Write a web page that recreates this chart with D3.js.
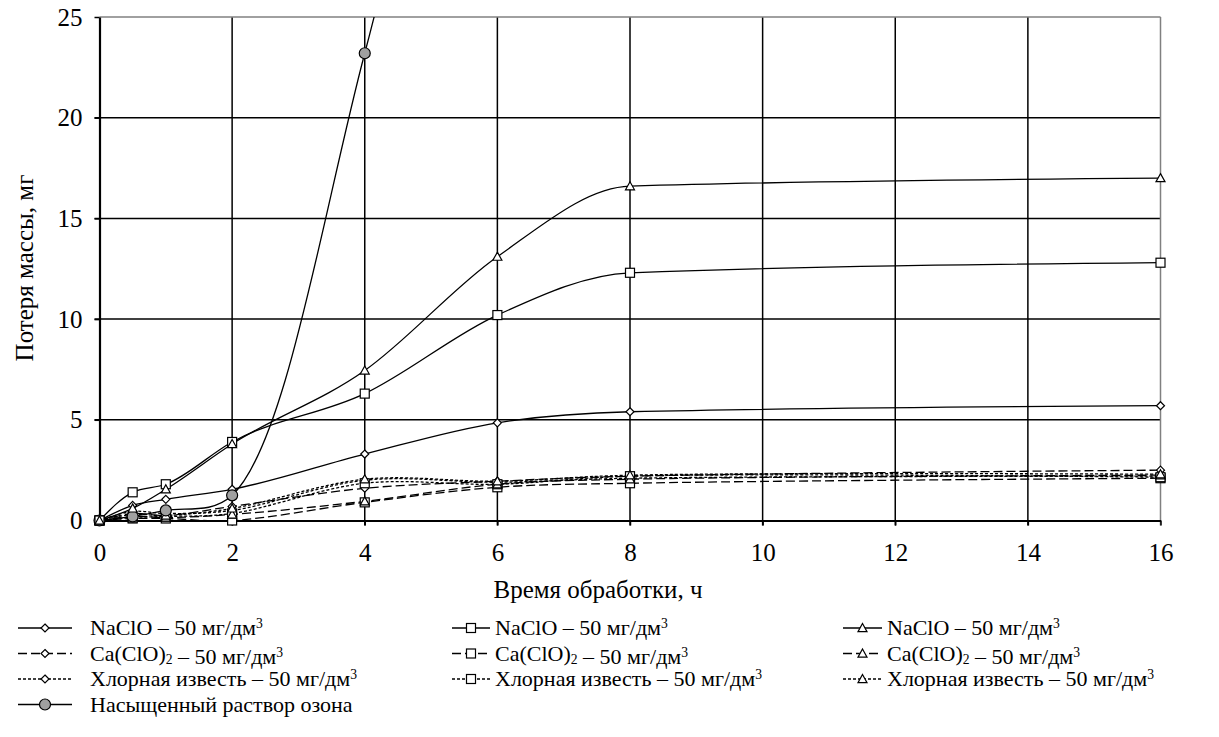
<!DOCTYPE html>
<html><head><meta charset="utf-8">
<script src="https://cdn.jsdelivr.net/npm/d3@7"></script>
<style>
body{margin:0;background:#fff;}
svg text{font-family:"Liberation Serif","Times New Roman",serif;fill:#000;}
</style></head>
<body><svg id="c" width="1219" height="737"></svg>
<script>
// ---- data ----
const times = [0, 0.5, 1, 2, 4, 6, 8, 16];
const naclo_diamond = [0, 0.75, 1.05, 1.55, 3.3, 4.85, 5.4, 5.7];
const naclo_square = [0, 1.4, 1.8, 3.9, 6.3, 10.2, 12.3, 12.8];
const naclo_triangle = [0, 0.6, 1.55, 3.8, 7.45, 13.1, 16.6, 17.0];
const ca_diamond = [0, 0.35, 0.25, 0.7, 1.6, 1.95, 2.2, 2.5];
const ca_square = [0, 0.1, 0.1, 0.0, 0.9, 1.65, 1.85, 2.1];
const ca_triangle = [0, 0.2, 0.15, 0.3, 0.95, 1.8, 2.05, 2.25];
const lime_diamond = [0, 0.45, 0.35, 0.5, 2.0, 1.9, 2.1, 2.2];
const lime_square = [0, 0.15, 0.2, 0.35, 1.85, 1.8, 2.2, 2.15];
const lime_triangle = [0, 0.3, 0.25, 0.6, 2.05, 1.95, 2.25, 2.3];
const ozone_times = [0, 0.5, 1, 2, 4, 6];
const ozone = [0, 0.2, 0.5, 1.25, 23.2, 52];
const xTicks = [0, 2, 4, 6, 8, 10, 12, 14, 16];
const yTicks = [0, 5, 10, 15, 20, 25];
const xTitle = "Время обработки, ч";
const yTitle = "Потеря массы, мг";

const series = [
  {name:"NaClO", sub:null, vals:naclo_diamond, t:times, marker:"diamond", dash:null, col:0,row:0},
  {name:"Ca(ClO)", sub:"2", vals:ca_diamond, t:times, marker:"diamond", dash:"9,4", col:0,row:1},
  {name:"Хлорная известь", sub:null, vals:lime_diamond, t:times, marker:"diamond", dash:"3,2", col:0,row:2},
  {name:"Насыщенный раствор озона", sub:null, noUnit:true, vals:ozone, t:ozone_times, marker:"circle", dash:null, col:0,row:3},
  {name:"NaClO", sub:null, vals:naclo_square, t:times, marker:"square", dash:null, col:1,row:0},
  {name:"Ca(ClO)", sub:"2", vals:ca_square, t:times, marker:"square", dash:"9,4", col:1,row:1},
  {name:"Хлорная известь", sub:null, vals:lime_square, t:times, marker:"square", dash:"3,2", col:1,row:2},
  {name:"NaClO", sub:null, vals:naclo_triangle, t:times, marker:"triangle", dash:null, col:2,row:0},
  {name:"Ca(ClO)", sub:"2", vals:ca_triangle, t:times, marker:"triangle", dash:"9,4", col:2,row:1},
  {name:"Хлорная известь", sub:null, vals:lime_triangle, t:times, marker:"triangle", dash:"3,2", col:2,row:2},
];

const svg = d3.select("#c");
const L = 99.5, R = 1160.5, T = 17, B = 520.5;
const x = d3.scaleLinear().domain([0,16]).range([L,R]);
const y = d3.scaleLinear().domain([0,25]).range([B,T]);
const FS = 25, FL = 22;

const g = svg.append("g");
g.selectAll(".vg").data(xTicks.filter(d=>d>0&&d<16)).join("line")
  .attr("x1",d=>x(d)).attr("x2",d=>x(d)).attr("y1",T).attr("y2",B+5)
  .attr("stroke","#000").attr("stroke-width",1.5);
g.selectAll(".hg").data(yTicks.filter(d=>d>0&&d<25)).join("line")
  .attr("x1",L-5).attr("x2",R).attr("y1",d=>y(d)).attr("y2",d=>y(d))
  .attr("stroke","#000").attr("stroke-width",1.5);
g.append("line").attr("x1",L).attr("x2",R).attr("y1",T).attr("y2",T).attr("stroke","#808080").attr("stroke-width",1.5);
g.append("line").attr("x1",R).attr("x2",R).attr("y1",T).attr("y2",B+5).attr("stroke","#808080").attr("stroke-width",1.5);

const xAxis = svg.append("g").attr("transform",`translate(0,${B})`)
  .call(d3.axisBottom(x).tickValues(xTicks).tickSize(5).tickSizeOuter(0).tickPadding(18));
const yAxis = svg.append("g").attr("transform",`translate(${L},0)`)
  .call(d3.axisLeft(y).tickValues(yTicks).tickSize(5).tickSizeOuter(0).tickPadding(12));
[xAxis,yAxis].forEach(a=>{
  a.attr("font-family",null).attr("font-size",null);
  a.select(".domain").attr("stroke","#000").attr("stroke-width",2.2);
  a.selectAll(".tick line").attr("stroke","#000").attr("stroke-width",1.5);
  a.selectAll(".tick text").style("font-size",FS+"px").attr("fill","#000");
});

svg.append("clipPath").attr("id","clip").append("rect").attr("x",L-10).attr("y",T).attr("width",R-L+20).attr("height",B-T+10);

const lineSmooth = d3.line().x(d=>x(d[0])).y(d=>y(d[1])).curve(d3.curveCatmullRom.alpha(0.5));
const lineMono = d3.line().x(d=>x(d[0])).y(d=>y(d[1])).curve(d3.curveMonotoneX);

function drawMarker(sel, type, cx, cy){
  if(type==="diamond"){
    const s=4;
    sel.append("path").attr("d",`M${cx},${cy-s}L${cx+s},${cy}L${cx},${cy+s}L${cx-s},${cy}Z`)
      .attr("fill","#fff").attr("stroke","#000").attr("stroke-width",1.2);
  } else if(type==="square"){
    const s=4.5;
    sel.append("rect").attr("x",cx-s).attr("y",cy-s).attr("width",2*s).attr("height",2*s)
      .attr("fill","#fff").attr("stroke","#000").attr("stroke-width",1.2);
  } else if(type==="triangle"){
    const s=4.5;
    sel.append("path").attr("d",`M${cx},${cy-s}L${cx+s},${cy+s*0.8}L${cx-s},${cy+s*0.8}Z`)
      .attr("fill","#fff").attr("stroke","#000").attr("stroke-width",1.2);
  } else {
    sel.append("circle").attr("cx",cx).attr("cy",cy).attr("r",5.5)
      .attr("fill","#a0a0a0").attr("stroke","#000").attr("stroke-width",1.2);
  }
}

const plot = svg.append("g").attr("clip-path","url(#clip)");
const order = series.slice().sort((a,b)=>(b.dash?1:0)-(a.dash?1:0));
order.forEach(s=>{
  const pts = s.t.map((t,i)=>[t,s.vals[i]]);
  const gen = (s.dash || s.marker==="circle") ? lineSmooth : lineMono;
  plot.append("path").attr("d",gen(pts)).attr("fill","none").attr("stroke","#000")
    .attr("stroke-width",1.3).attr("stroke-dasharray",s.dash);
});
order.forEach(s=>{
  const mg = plot.append("g");
  s.t.forEach((t,i)=>{ if(s.vals[i]<=25) drawMarker(mg, s.marker, x(t), y(s.vals[i])); });
});

svg.append("text").attr("x",598).attr("y",598).attr("text-anchor","middle")
  .style("font-size",FS+"px").text(xTitle);
svg.append("text").attr("transform",`translate(33,268) rotate(-90)`).attr("text-anchor","middle")
  .style("font-size",FS+"px").text(yTitle);

const colLine = [[18,72],[452,490],[843,882]];
const colText = [90,495,887];
const rowY = [628,653.5,679,704.5];
series.forEach(s=>{
  const lg = svg.append("g");
  const [x1,x2] = colLine[s.col];
  const cy = rowY[s.row];
  lg.append("line").attr("x1",x1).attr("x2",x2).attr("y1",cy).attr("y2",cy)
    .attr("stroke","#000").attr("stroke-width",1.3).attr("stroke-dasharray",s.dash);
  drawMarker(lg, s.marker, (x1+x2)/2, cy);
  const t = lg.append("text").attr("x",colText[s.col]).attr("y",cy+7).style("font-size",FL+"px");
  t.append("tspan").text(s.name);
  if(s.sub){ t.append("tspan").attr("dy",3).style("font-size",(FL*0.62)+"px").text(s.sub); t.append("tspan").attr("dy",-3).text(""); }
  if(!s.noUnit){
    t.append("tspan").text(" – 50 мг/дм");
    t.append("tspan").attr("dy",-7).style("font-size",(FL*0.62)+"px").text("3");
  }
});
</script></body></html>
